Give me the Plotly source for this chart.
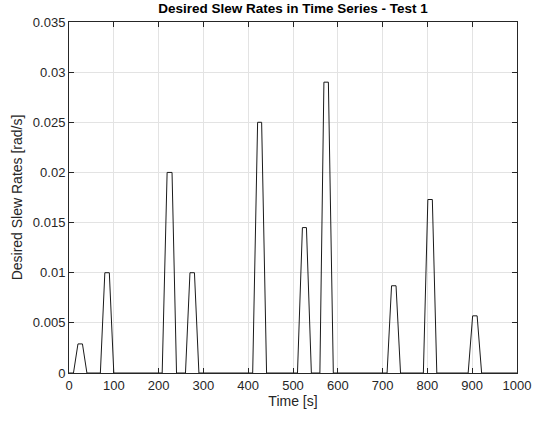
import plotly.graph_objects as go

# Time-series breakpoints (seconds) and desired slew rates (rad/s)
time_s = [0, 10, 20, 30, 40,
          70, 80, 90, 100,
          208, 219, 230, 240,
          260, 270, 280, 290,
          410, 421, 430, 441,
          510, 521, 530, 541,
          560, 569, 579, 590,
          710, 720, 730, 740,
          791, 801, 811, 821,
          891, 901, 911, 921,
          1000]
slew_rate = [0, 0, 0.0029, 0.0029, 0,
             0, 0.01, 0.01, 0,
             0, 0.02, 0.02, 0,
             0, 0.01, 0.01, 0,
             0, 0.025, 0.025, 0,
             0, 0.0145, 0.0145, 0,
             0, 0.029, 0.029, 0,
             0, 0.0087, 0.0087, 0,
             0, 0.0173, 0.0173, 0,
             0, 0.0057, 0.0057, 0,
             0]

x_ticks = [0, 100, 200, 300, 400, 500, 600, 700, 800, 900, 1000]
y_ticks = [0, 0.005, 0.01, 0.015, 0.02, 0.025, 0.03, 0.035]
y_tick_text = ["0", "0.005", "0.01", "0.015", "0.02", "0.025", "0.03", "0.035"]

fig = go.Figure()
fig.add_trace(go.Scatter(x=time_s, y=slew_rate, mode="lines",
                         line=dict(color="#1a1a1a", width=1),
                         showlegend=False))

axis_common = dict(showgrid=True, gridcolor="#e3e3e3", gridwidth=1,
                   showline=True, linecolor="#262626", linewidth=1,
                   mirror="ticks", ticks="inside", ticklen=5,
                   tickcolor="#262626", zeroline=False, automargin=False,
                   tickfont=dict(family="Liberation Sans, Arial", size=13, color="#262626"))

fig.update_layout(
    width=533, height=421,
    margin=dict(l=69, r=16, t=22, b=48, autoexpand=False),
    paper_bgcolor="white", plot_bgcolor="white",
    title=dict(text="<b>Desired Slew Rates in Time Series - Test 1</b>",
               x=0.5, xanchor="center", xref="paper",
               y=1, yref="container", yanchor="top", pad=dict(t=4),
               font=dict(family="Liberation Sans, Arial", size=13.5, color="#000000")),
    xaxis=dict(range=[0, 1000], tickvals=x_ticks,
               title=dict(text="Time [s]", standoff=4,
                          font=dict(family="Liberation Sans, Arial", size=14, color="#262626")),
               **axis_common),
    yaxis=dict(range=[0, 0.035], tickvals=y_ticks, ticktext=y_tick_text,
               title=dict(text="Desired Slew Rates [rad/s]", standoff=6,
                          font=dict(family="Liberation Sans, Arial", size=14, color="#262626")),
               **axis_common),
)

fig.write_html("out.html")
